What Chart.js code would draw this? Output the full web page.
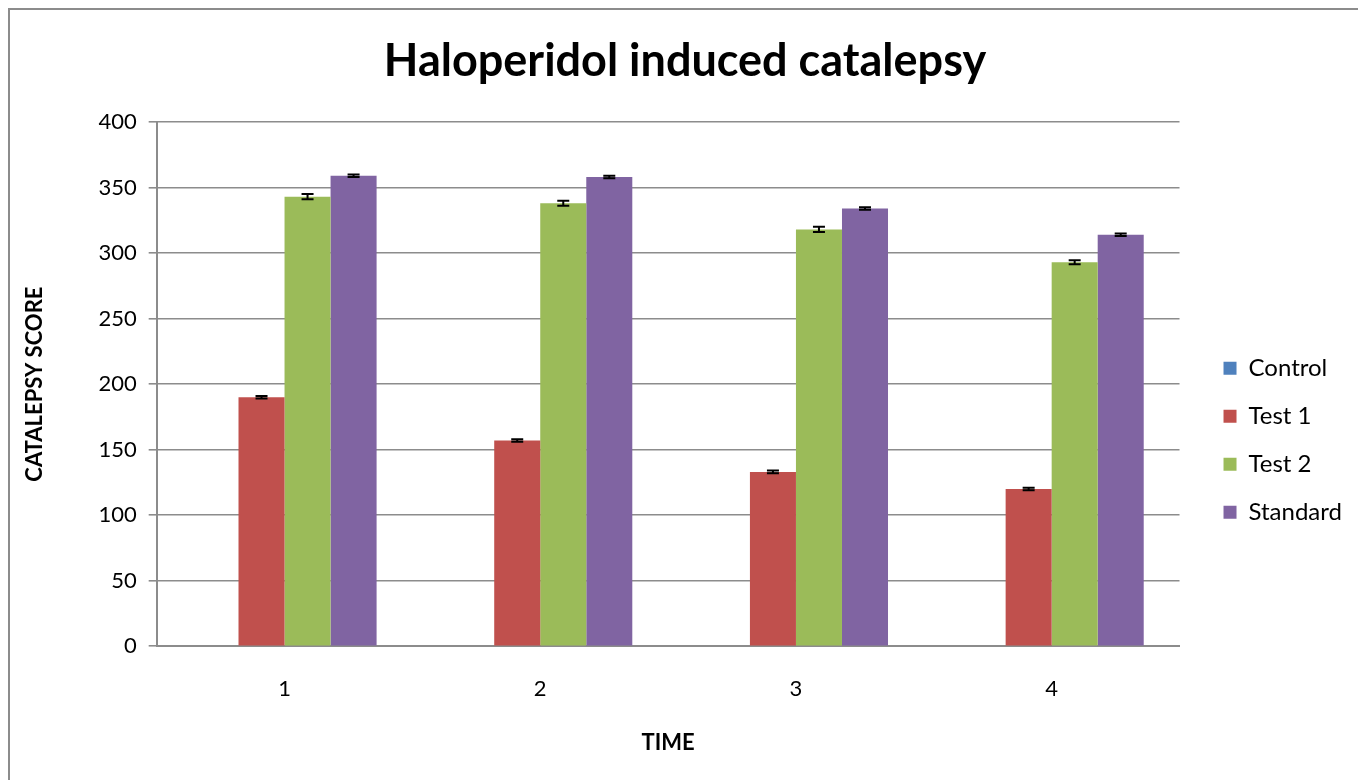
<!DOCTYPE html>
<html>
<head>
<meta charset="utf-8">
<title>Haloperidol induced catalepsy</title>
<script src="https://cdn.jsdelivr.net/npm/chart.js@4.4.1/dist/chart.umd.min.js"></script>
<style>
  html, body { margin: 0; padding: 0; background: #fff; overflow: hidden; }
  #frame {
    position: absolute; left: 8px; top: 8px;
    width: 1400px; height: 820px;
    border: 2px solid #8c8c8c;
  }
  #wrap { position: absolute; left: 0; top: 0; width: 1358px; height: 780px; }
</style>
</head>
<body>
<div id="frame"></div>
<div id="wrap"><canvas id="bargraph"></canvas></div>
<script>
const bargraph = document.getElementById("bargraph");

// data
const times = ["1", "2", "3", "4"];
const seriesNames = ["Control", "Test 1", "Test 2", "Standard"];
const control = [0, 0, 0, 0];
const test1 = [190, 157, 133, 120];
const test2 = [343, 338, 318, 293];
const standard = [359, 358, 334, 314];
const controlErr = [0, 0, 0, 0];
const test1Err = [1, 1, 1, 1];
const test2Err = [2, 2, 2, 1.5];
const standardErr = [1, 1, 1, 1];
const colors = ["#4F81BD", "#C0504D", "#9BBB59", "#8064A2"];

const values = [control, test1, test2, standard];
const errors = [controlErr, test1Err, test2Err, standardErr];

const FONT = "Lato, 'Open Sans', sans-serif";

// little black error bars on top of each bar
const errorBars = {
  id: "errorBars",
  afterDatasetsDraw(chart) {
    const ctx = chart.ctx;
    const y = chart.scales.y;
    ctx.save();
    ctx.strokeStyle = "#000";
    ctx.lineWidth = 2;
    chart.data.datasets.forEach((ds, i) => {
      if (!ds.errors) return;
      const meta = chart.getDatasetMeta(i);
      meta.data.forEach((bar, j) => {
        const v = ds.data[j], e = ds.errors[j];
        if (!v || !e) return;
        const top = y.getPixelForValue(v + e);
        const bot = y.getPixelForValue(v - e);
        ctx.beginPath();
        ctx.moveTo(bar.x, top); ctx.lineTo(bar.x, bot);
        ctx.moveTo(bar.x - 6, top); ctx.lineTo(bar.x + 6, top);
        ctx.moveTo(bar.x - 6, bot); ctx.lineTo(bar.x + 6, bot);
        ctx.stroke();
      });
    });
    ctx.restore();
  }
};

new Chart(bargraph, {
  type: "bar",
  data: {
    labels: times,
    datasets: seriesNames.map((name, i) => ({
      label: name,
      data: values[i],
      errors: errors[i],
      backgroundColor: colors[i],
      borderWidth: 0,
      categoryPercentage: 0.72,
      barPercentage: 1.0
    }))
  },
  options: {
    responsive: true,
    maintainAspectRatio: false,
    animation: false,
    layout: { padding: { left: 18, right: 6, top: 30, bottom: 20 } },
    plugins: {
      title: {
        display: true,
        text: "Haloperidol induced catalepsy",
        color: "#000",
        font: { family: FONT, size: 45, weight: "bold" },
        padding: { top: 4, bottom: 34 }
      },
      legend: {
        position: "right",
        title: { display: true, text: " ", font: { size: 2 }, padding: { top: 0, bottom: 88 } },
        labels: {
          color: "#000",
          font: { family: FONT, size: 24 },
          boxWidth: 13,
          boxHeight: 13,
          padding: 24
        }
      },
      tooltip: { enabled: false }
    },
    scales: {
      x: {
        grid: { display: false },
        border: { display: true, color: "#8c8c8c", width: 2 },
        ticks: { color: "#000", font: { family: FONT, size: 22 }, padding: 22 },
        title: {
          display: true, text: "TIME", color: "#000",
          font: { family: FONT, size: 22, weight: "bold" },
          padding: { top: 5 }
        }
      },
      y: {
        min: 0, max: 400,
        ticks: { stepSize: 50, color: "#000", font: { family: FONT, size: 22 }, padding: 12 },
        grid: { color: "#8c8c8c", lineWidth: 1.6, tickLength: 8 },
        border: { display: true, color: "#8c8c8c", width: 2 },
        title: {
          display: true, text: "CATALEPSY SCORE", color: "#000",
          font: { family: FONT, size: 22, weight: "bold" },
          padding: { bottom: 38 }
        }
      },
      // empty right axis, only keeps a gap between plot and legend
      gap: {
        position: "right",
        min: 0, max: 400,
        grid: { display: false, drawOnChartArea: false },
        border: { display: false },
        ticks: { display: false },
        afterFit(scale) { scale.width = 20; }
      }
    }
  },
  plugins: [errorBars]
});
</script>
</body>
</html>
